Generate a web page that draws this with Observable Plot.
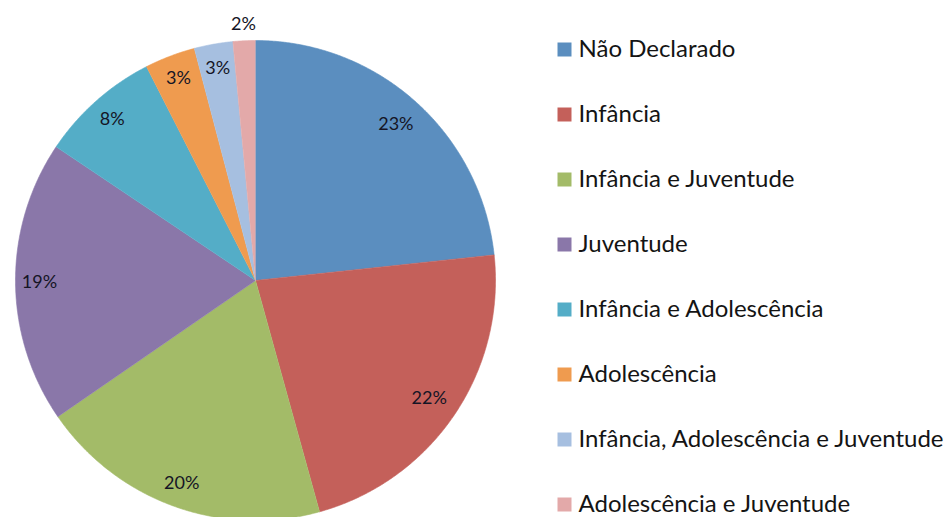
<!DOCTYPE html>
<html>
<head>
<meta charset="utf-8">
<script src="https://cdn.jsdelivr.net/npm/d3@7"></script>
<script src="https://cdn.jsdelivr.net/npm/@observablehq/plot@0.6"></script>
<style>
  html, body { margin: 0; padding: 0; background: #fff; }
  #wrap { display: flex; flex-direction: row; width: 945px; height: 517px; overflow: hidden; }
</style>
</head>
<body>
<div id="wrap"></div>
<script>
const categories = [
  "Não Declarado",
  "Infância",
  "Infância e Juventude",
  "Juventude",
  "Infância e Adolescência",
  "Adolescência",
  "Infância, Adolescência e Juventude",
  "Adolescência e Juventude"
];
const values = [23.3, 22.4, 19.7, 19.0, 8.1, 3.4, 2.6, 1.5];
const labels = ["23%", "22%", "20%", "19%", "8%", "3%", "3%", "2%"];
const colors = ["#5b8ebf", "#c4605a", "#a3bb68", "#8a77a9", "#54adc7", "#ef9b4f", "#a6bfe0", "#e3a9a9"];

const FONT = "Lato, 'Open Sans', sans-serif";

// pie geometry from data (angles via d3.pie, clockwise from 12 o'clock)
const arcs = d3.pie().sort(null).value(d => d)(values);
const slicePts = [];
arcs.forEach((a, i) => {
  slicePts.push({cat: categories[i], x: 0, y: 0});
  const n = Math.max(4, Math.ceil((a.endAngle - a.startAngle) / 0.005));
  for (let k = 0; k <= n; k++) {
    const t = a.startAngle + (a.endAngle - a.startAngle) * k / n;
    slicePts.push({cat: categories[i], x: Math.sin(t), y: Math.cos(t)});
  }
});
const labelPts = arcs.map((a, i) => {
  const m = (a.startAngle + a.endAngle) / 2;
  const share = values[i] / d3.sum(values);
  const r = share < 0.02 ? 1.07 : (share > 0.21 ? 0.875 : 0.9);
  return {label: labels[i], x: Math.sin(m) * r, y: Math.cos(m) * r};
});

const colorScale = {domain: categories, range: colors};

const pie = Plot.plot({
  width: 540,
  height: 517,
  margin: 0,
  style: {fontFamily: FONT, background: "#fff", overflow: "visible"},
  x: {domain: [-1, 1], range: [15, 495], axis: null},
  y: {domain: [-1, 1], range: [520, 40], axis: null},
  color: colorScale,
  marks: [
    Plot.line(slicePts, {x: "x", y: "y", z: "cat", fill: "cat", stroke: "cat", strokeWidth: 0.6, curve: "linear"}),
    Plot.text(labelPts, {x: "x", y: "y", text: "label", fontSize: 18, fill: "#151525", textAnchor: "middle"})
  ]
});

const legend = Plot.plot({
  width: 405,
  height: 517,
  margin: 0,
  style: {fontFamily: FONT, background: "#fff"},
  x: {axis: null},
  y: {type: "point", domain: categories, range: [47, 505], padding: 0, axis: null},
  color: colorScale,
  marks: [
    Plot.dot(categories, {y: d => d, frameAnchor: "left", dx: 24, symbol: "square", r: 7.9, fill: d => d}),
    Plot.text(categories, {y: d => d, frameAnchor: "left", dx: 38, text: d => d, textAnchor: "start", fontSize: 24, fill: "#141414"})
  ]
});

const wrap = document.getElementById("wrap");
wrap.appendChild(pie);
wrap.appendChild(legend);
</script>
</body>
</html>
